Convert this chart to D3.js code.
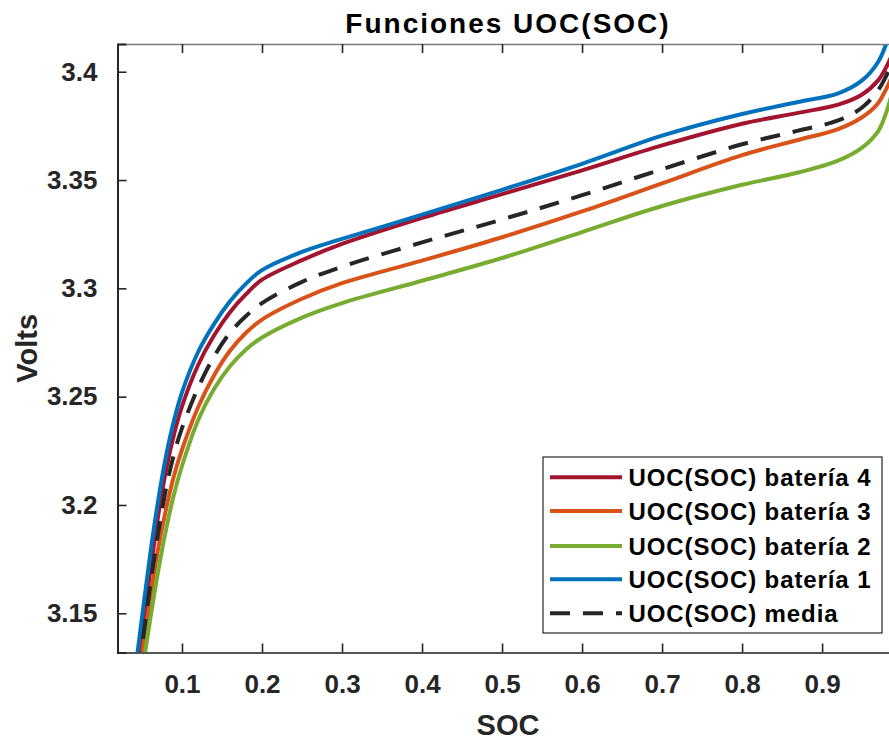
<!DOCTYPE html>
<html>
<head>
<meta charset="utf-8">
<script src="https://cdn.jsdelivr.net/npm/d3@7"></script>
<style>
  html, body { margin: 0; padding: 0; background: #fff; }
  svg { display: block; font-family: "Liberation Sans", Arial, Helvetica, sans-serif; font-weight: bold; }
</style>
</head>
<body>
<svg id="chart" width="889" height="740"></svg>
<script>
// ---- data ----
const soc = [0.04, 0.05, 0.06, 0.07, 0.08, 0.09, 0.10, 0.12, 0.14, 0.16, 0.18, 0.20, 0.25, 0.30, 0.40, 0.50, 0.60, 0.70, 0.80, 0.87, 0.92, 0.95, 0.97, 0.98, 0.99];
const bateria4 = [3.112, 3.1405, 3.1685, 3.1945, 3.2160, 3.2325, 3.2455, 3.2645, 3.2782, 3.2890, 3.2973, 3.3040, 3.3130, 3.3205, 3.3325, 3.3435, 3.3545, 3.3660, 3.3760, 3.3810, 3.3848, 3.3895, 3.3960, 3.4020, 3.4100];
const bateria3 = [3.103, 3.1305, 3.1565, 3.1795, 3.1980, 3.2135, 3.2255, 3.2450, 3.2598, 3.2712, 3.2795, 3.2856, 3.2952, 3.3024, 3.3128, 3.3236, 3.3355, 3.3485, 3.3615, 3.3685, 3.3735, 3.3790, 3.3855, 3.3920, 3.4000];
const bateria2 = [3.098, 3.1225, 3.1465, 3.1690, 3.1885, 3.2050, 3.2180, 3.2390, 3.2535, 3.2640, 3.2718, 3.2773, 3.2865, 3.2932, 3.3035, 3.3140, 3.3260, 3.3380, 3.3478, 3.3535, 3.3590, 3.3650, 3.3725, 3.3810, 3.3940];
const bateria1 = [3.119, 3.148, 3.1765, 3.2015, 3.2225, 3.2390, 3.2520, 3.2705, 3.2835, 3.2940, 3.3022, 3.3084, 3.3168, 3.3228, 3.3340, 3.3455, 3.3575, 3.3705, 3.3805, 3.3860, 3.3900, 3.3960, 3.4045, 3.4128, 3.4235];
const media = [3.108, 3.135, 3.162, 3.1865, 3.2075, 3.2235, 3.2355, 3.2540, 3.2685, 3.2795, 3.2872, 3.2932, 3.3030, 3.3100, 3.3212, 3.3318, 3.3430, 3.3550, 3.3665, 3.3728, 3.3775, 3.3835, 3.3915, 3.3980, 3.4060];

const seriesNames = ["UOC(SOC) batería 4", "UOC(SOC) batería 3", "UOC(SOC) batería 2", "UOC(SOC) batería 1", "UOC(SOC) media"];
const seriesColors = ["#A2142F", "#D95319", "#77AC30", "#0072BD", "#262626"];
const seriesDash = [null, null, null, null, "20,13"];
const xTicks = [0.1, 0.2, 0.3, 0.4, 0.5, 0.6, 0.7, 0.8, 0.9];
const yTicks = [3.15, 3.2, 3.25, 3.3, 3.35, 3.4];
const titleText = "Funciones UOC(SOC)";
const xLabel = "SOC";
const yLabel = "Volts";

const seriesValues = [bateria4, bateria3, bateria2, bateria1, media];

// ---- layout ----
const svg = d3.select("#chart");
const pLeft = 117.5, pRight = 899, pTop = 44, pBottom = 652.5;
const x = d3.scaleLinear().domain([0.0194, 0.9961]).range([pLeft, pRight]);
const y = d3.scaleLinear().domain([3.1319, 3.4128]).range([pBottom, pTop]);

const axisColor = "#262626";

// clip
svg.append("defs").append("clipPath").attr("id", "clip")
  .append("rect").attr("x", pLeft).attr("y", pTop).attr("width", pRight - pLeft).attr("height", pBottom - pTop);

// lines
const line = d3.line().x((d) => x(d[0])).y((d) => y(d[1])).curve(d3.curveCatmullRom.alpha(0.5));
const plot = svg.append("g").attr("clip-path", "url(#clip)");
seriesValues.forEach((vals, i) => {
  const pts = soc.map((s, k) => [s, vals[k]]);
  plot.append("path").datum(pts)
    .attr("d", line)
    .attr("fill", "none")
    .attr("stroke", seriesColors[i])
    .attr("stroke-width", 4)
    .attr("stroke-dasharray", seriesDash[i])
    .attr("stroke-linejoin", "round");
});

// axes (MATLAB style: ticks inside, box)
const xAxisB = d3.axisBottom(x).tickValues(xTicks).tickSize(-9).tickPadding(22).tickFormat(d3.format(".1f"));
const xAxisT = d3.axisTop(x).tickValues(xTicks).tickSize(-9).tickFormat("");
const yAxisL = d3.axisLeft(y).tickValues(yTicks).tickSize(-9).tickPadding(20).tickFormat((d) => String(+d.toFixed(2)));

const gB = svg.append("g").attr("transform", `translate(0,${pBottom})`).call(xAxisB);
const gT = svg.append("g").attr("transform", `translate(0,${pTop})`).call(xAxisT);
const gL = svg.append("g").attr("transform", `translate(${pLeft},0)`).call(yAxisL);

[gB, gT, gL].forEach((g) => {
  g.selectAll(".tick line").attr("stroke", axisColor).attr("stroke-width", 1.6);
  g.selectAll("text").attr("fill", axisColor).style("font-size", "26px").style("font-weight", "bold")
    .style("font-family", '"Liberation Sans", Arial, sans-serif');
});
gB.select(".domain").attr("stroke", "#555").attr("stroke-width", 2);
gT.select(".domain").attr("stroke", "#7a7a7a").attr("stroke-width", 1.5);
gL.select(".domain").attr("stroke", axisColor).attr("stroke-width", 2);

// title & labels
svg.append("text").attr("x", 508).attr("y", 33).attr("text-anchor", "middle")
  .style("font-size", "28px").style("letter-spacing", "2px").attr("fill", "#000").text(titleText);
svg.append("text").attr("x", 508).attr("y", 735).attr("text-anchor", "middle")
  .style("font-size", "29px").attr("fill", axisColor).text(xLabel);
svg.append("text").attr("transform", `translate(36.5,${(pTop + pBottom) / 2}) rotate(-90)`).attr("text-anchor", "middle")
  .style("font-size", "29px").attr("fill", axisColor).text(yLabel);

// legend
const lg = svg.append("g");
lg.append("rect").attr("x", 543).attr("y", 457).attr("width", 339).attr("height", 176)
  .attr("fill", "#fff").attr("stroke", axisColor).attr("stroke-width", 1.2);
const rowY = [477.3, 511, 546, 579.3, 613.3];
seriesNames.forEach((name, i) => {
  lg.append("line").attr("x1", 550).attr("x2", 622).attr("y1", rowY[i]).attr("y2", rowY[i])
    .attr("stroke", seriesColors[i]).attr("stroke-width", 4).attr("stroke-dasharray", seriesDash[i]);
  lg.append("text").attr("x", 628.5).attr("y", rowY[i] + 8.5)
    .style("font-size", "24px").style("letter-spacing", "0.9px").attr("fill", "#000").text(name);
});
</script>
</body>
</html>
